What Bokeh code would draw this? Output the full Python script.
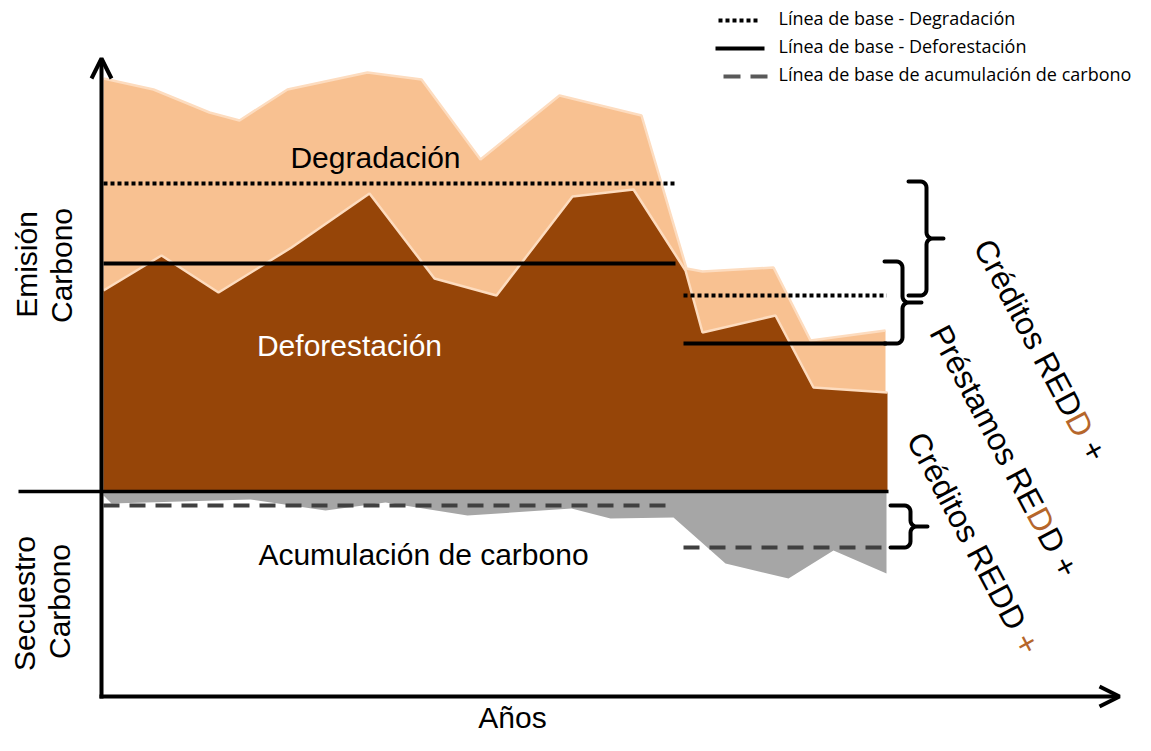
import numpy as np
from bokeh.plotting import figure
from bokeh.models import Range1d, Arrow, OpenHead
from bokeh.core.properties import value
from bokeh.embed import file_html
from bokeh.resources import INLINE

# ---------------- data ----------------
# total emissions (deforestation + degradation), top of light area
total_years = [0.05, 1.3, 2.7, 3.45, 4.65, 6.65, 8.0, 9.475, 11.45, 13.5, 14.625, 15.025, 16.8, 17.725, 19.6]
total_values = [103.25, 100.5, 94.75, 92.75, 100.5, 104.75, 103.0, 83.0, 99.0, 94.0, 55.75, 55.0, 56.0, 37.75, 40.25]
# deforestation emissions (dark area)
defo_years = [0.05, 1.5, 2.925, 4.75, 6.7, 8.325, 9.875, 11.775, 13.3, 14.6, 15.025, 16.85, 17.8, 19.65]
defo_values = [50.25, 59.0, 49.75, 61.0, 74.5, 53.25, 49.0, 73.75, 75.5, 55.25, 39.75, 44.0, 26.0, 24.75]
# carbon accumulation (sequestration, negative)
acc_years = [0.05, 0.25, 3.725, 5.6, 7.1, 9.15, 11.75, 12.725, 14.3, 15.6, 17.175, 18.3, 19.625]
acc_values = [-1.0, -3.0, -2.0, -4.75, -2.75, -6.0, -4.25, -6.75, -6.5, -18.0, -21.75, -14.75, -20.5]

# baselines: reference period and project period
period_start = [0.05, 14.55]
period_end = [14.35, 19.63]
base_degradation = [77.0, 49.0]
base_deforestation = [57.0, 37.0]
base_accumulation = [-3.5, -14.0]

legend_labels = ["Línea de base - Degradación",
                 "Línea de base - Deforestación",
                 "Línea de base de acumulación de carbono"]

# ---------------- layout helpers ----------------
W, H = 1135, 735
X0_PX, PX_PER_YEAR = 101.0, 40.0
Y0_PX, PX_PER_UNIT = 491.0, 4.0

def fx(px):
    return (px - X0_PX) / PX_PER_YEAR

def fy(py):
    return (Y0_PX - py) / PX_PER_UNIT

def tx(v):
    return X0_PX + v * PX_PER_YEAR

def ty(v):
    return Y0_PX - v * PX_PER_UNIT

LIGHT = "#F8C191"
DARK = "#964508"
EDGE = "#FDDCBF"
GRAY = "#A6A6A6"
DGRAY = "#404040"
ORANGE = "#B5662B"
FONT = value("Liberation Sans")

p = figure(width=W, height=H, output_backend="svg", toolbar_location=None,
           x_range=Range1d(fx(0), fx(W)),
           y_range=Range1d(fy(H), fy(0)),
           x_axis_location=None, y_axis_location=None, min_border=0,
           outline_line_color=None, background_fill_color="white",
           border_fill_color="white")
p.grid.visible = False

# ---------------- areas ----------------
p.varea(x=total_years, y1=0, y2=total_values, fill_color=LIGHT)
p.line(total_years, total_values, line_color=EDGE, line_width=2.5)
p.varea(x=defo_years, y1=0, y2=defo_values, fill_color=DARK)
p.line(defo_years, defo_values, line_color=EDGE, line_width=2.5)
p.varea(x=acc_years, y1=0, y2=acc_values, fill_color=GRAY)

# zero line
p.line([fx(18), fx(888)], [0, 0], line_color="black", line_width=3.5)

# ---------------- baselines ----------------
for s, e, v in zip(period_start, period_end, base_degradation):
    p.line([s, e], [v, v], line_color="black", line_width=4, line_dash="4 3")
for s, e, v in zip(period_start, period_end, base_deforestation):
    p.line([s, e], [v, v], line_color="black", line_width=4)
for s, e, v in zip(period_start, period_end, base_accumulation):
    p.line([s, e], [v, v], line_color=DGRAY, line_width=4, line_dash="16 10")

# ---------------- braces ----------------
def brace(x_left, x_spine, x_tip, y_top, y_bot, r=6):
    ym = (y_top + y_bot) / 2.0
    pts = [(x_left, y_top)]
    cx, cy = x_spine - r, y_top + r
    for a in np.linspace(-np.pi / 2, 0, 6):
        pts.append((cx + r * np.cos(a), cy + r * np.sin(a)))
    cx, cy = x_spine + r, ym - r
    for a in np.linspace(np.pi, np.pi / 2, 6):
        pts.append((cx + r * np.cos(a), cy + r * np.sin(a)))
    pts.append((x_tip, ym))
    cx, cy = x_spine + r, ym + r
    for a in np.linspace(-np.pi / 2, -np.pi, 6):
        pts.append((cx + r * np.cos(a), cy + r * np.sin(a)))
    cx, cy = x_spine - r, y_bot - r
    for a in np.linspace(0, np.pi / 2, 6):
        pts.append((cx + r * np.cos(a), cy + r * np.sin(a)))
    pts.append((x_left, y_bot))
    return [fx(a) for a, b in pts], [fy(b) for a, b in pts]

braces = [
    (908, 926, 943, ty(base_degradation[0]) - 2, ty(base_degradation[1])),
    (884, 902, 921, ty(base_deforestation[0]) - 2, ty(base_deforestation[1])),
    (890, 910, 927, ty(base_accumulation[0]), ty(base_accumulation[1])),
]
bx, by = [], []
for b in braces:
    xs, ys = brace(*b)
    bx.append(xs)
    by.append(ys)
p.multi_line(bx, by, line_color="black", line_width=4, line_join="round", line_cap="round")

# ---------------- axes (arrows) ----------------
p.add_layout(Arrow(end=OpenHead(size=20, line_width=4, line_color="black"),
                   x_start=fx(101), y_start=fy(698), x_end=fx(101), y_end=fy(58),
                   line_width=4, line_color="black"))
p.add_layout(Arrow(end=OpenHead(size=20, line_width=4, line_color="black"),
                   x_start=fx(99), y_start=fy(696), x_end=fx(1119), y_end=fy(696),
                   line_width=4, line_color="black"))

# ---------------- area labels ----------------
def label(px, py, txt, color="black", size="30px", angle=0.0, align="center", baseline="middle", font=FONT):
    p.text(x=[fx(px)], y=[fy(py)], text=[txt], text_color=color, text_font=font,
           text_font_size=size, angle=angle, text_align=align, text_baseline=baseline)

label(375, 157, "Degradación")
label(349, 345, "Deforestación", color="white")
label(423, 554, "Acumulación de carbono")
label(512, 717, "Años")
label(26, 264, "Emisión", angle=np.pi / 2)
label(61, 265, "Carbono", angle=np.pi / 2)
label(24, 603, "Secuestro", angle=np.pi / 2)
label(59, 601, "Carbono", angle=np.pi / 2)

# ---------------- rotated REDD labels ----------------
ANG = np.deg2rad(62)
FS = 32
dxs, dys = np.cos(ANG), np.sin(ANG)  # screen direction (y down)
SPACE = 278

def rotated_line(ax, ay, segments):
    off = 0.0
    for txt, units, color in segments:
        sx = ax + off * FS / 1000.0 * dxs
        sy = ay + off * FS / 1000.0 * dys
        label(sx, sy, txt, color=color, size=f"{FS}px", angle=-ANG, align="left")
        off += units

rotated_line(982, 241, [("Créditos RED", 6112, "black"), ("D", 722 + SPACE, ORANGE), ("+", 584, "black")])
rotated_line(938, 327, [("Préstamos RE", 6446, "black"), ("D", 722, ORANGE), ("D +", 1584, "black")])
rotated_line(915, 434, [("Créditos REDD", 6834 + SPACE, "black"), ("+", 584, ORANGE)])

# ---------------- legend ----------------
LFONT = value("Open Sans")
leg_y = [20, 48, 76]
p.line([fx(718), fx(759)], [fy(leg_y[0])] * 2, line_color="black", line_width=4, line_dash="4 3")
p.line([fx(715), fx(764)], [fy(leg_y[1])] * 2, line_color="black", line_width=4)
p.line([fx(723), fx(767)], [fy(leg_y[2])] * 2, line_color="#595959", line_width=4, line_dash="17 10")
for yy, txt in zip([17, 45, 73], legend_labels):
    label(778, yy, txt, size="18px", align="left", baseline="alphabetic", font=LFONT)

open("out.html", "w").write(file_html(p, INLINE))
